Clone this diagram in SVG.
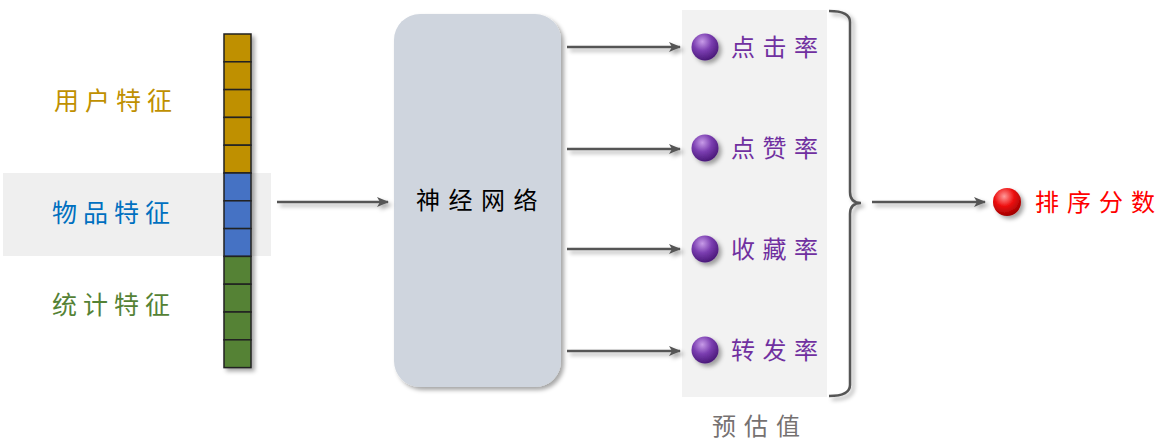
<svg xmlns="http://www.w3.org/2000/svg" width="1164" height="445" viewBox="0 0 1164 445">
<style>
text{font-family:"Noto Sans CJK SC","Noto Sans",sans-serif;font-size:24px;}
.feat{font-size:25px;letter-spacing:6px}
.pred{fill:#7030A0;letter-spacing:7.5px}
.cell{stroke:#222;stroke-width:1.5}
.conn{stroke:#555;stroke-width:2.5;fill:none}
</style>
<defs>
<marker id="ah" viewBox="0 0 12 10" refX="11" refY="5" markerWidth="12" markerHeight="10" markerUnits="userSpaceOnUse" orient="auto">
<path d="M0,0 L12,5 L0,10 L3,5 Z" fill="#555"/>
</marker>
<filter id="sh" x="-20%" y="-20%" width="150%" height="150%">
<feDropShadow dx="3" dy="3" stdDeviation="2" flood-color="#000" flood-opacity="0.35"/>
</filter>
<radialGradient id="pg" cx="0.4" cy="0.3" r="0.7">
<stop offset="0" stop-color="#c79be8"/>
<stop offset="0.5" stop-color="#7a3db0"/>
<stop offset="1" stop-color="#4b1a7a"/>
</radialGradient>
<radialGradient id="rg" cx="0.4" cy="0.3" r="0.7">
<stop offset="0" stop-color="#ff9a9a"/>
<stop offset="0.5" stop-color="#ee1111"/>
<stop offset="1" stop-color="#a00000"/>
</radialGradient>
</defs>

<g id="item-band"><rect x="3" y="173" width="268" height="83" fill="#efefef"/></g>

<g id="labels">
<text class="feat" x="54" y="110" fill="#BF9000">用户特征</text>
<text class="feat" x="52" y="222" fill="#0070C0">物品特征</text>
<text class="feat" x="52" y="314" fill="#548235">统计特征</text>
</g>

<g id="feature-vector" filter="url(#sh)">
<rect class="cell" x="224" y="34" width="27" height="27.8" fill="#BF9000"/>
<rect class="cell" x="224" y="61.8" width="27" height="27.8" fill="#BF9000"/>
<rect class="cell" x="224" y="89.6" width="27" height="27.8" fill="#BF9000"/>
<rect class="cell" x="224" y="117.4" width="27" height="27.8" fill="#BF9000"/>
<rect class="cell" x="224" y="145.2" width="27" height="27.8" fill="#BF9000"/>
<rect class="cell" x="224" y="173" width="27" height="27.8" fill="#4472C4"/>
<rect class="cell" x="224" y="200.8" width="27" height="27.8" fill="#4472C4"/>
<rect class="cell" x="224" y="228.6" width="27" height="27.8" fill="#4472C4"/>
<rect class="cell" x="224" y="256.4" width="27" height="27.8" fill="#548235"/>
<rect class="cell" x="224" y="284.2" width="27" height="27.8" fill="#548235"/>
<rect class="cell" x="224" y="312" width="27" height="27.8" fill="#548235"/>
<rect class="cell" x="224" y="339.8" width="27" height="27.8" fill="#548235"/>
</g>

<g id="neural-network">
<rect x="394" y="14" width="167" height="373" rx="26" fill="#CFD5DE" filter="url(#sh)"/>
<text x="416" y="209" fill="#000" letter-spacing="8.5">神经网络</text>
</g>

<g id="predictions">
<rect x="682" y="10" width="145" height="387" fill="#F2F2F2"/>
<circle cx="705" cy="47" r="13.5" fill="url(#pg)" filter="url(#sh)"/>
<circle cx="705" cy="148" r="13.5" fill="url(#pg)" filter="url(#sh)"/>
<circle cx="705" cy="249" r="13.5" fill="url(#pg)" filter="url(#sh)"/>
<circle cx="705" cy="350" r="13.5" fill="url(#pg)" filter="url(#sh)"/>
<text class="pred" x="731" y="56">点击率</text>
<text class="pred" x="731" y="157">点赞率</text>
<text class="pred" x="731" y="258">收藏率</text>
<text class="pred" x="731" y="359">转发率</text>
<text x="712" y="435" fill="#767171" letter-spacing="8">预估值</text>
</g>

<g id="score">
<circle cx="1007" cy="202" r="14" fill="url(#rg)" filter="url(#sh)"/>
<text x="1035" y="211" fill="#FF0000" letter-spacing="8">排序分数</text>
</g>

<g id="connectors" filter="url(#sh)">
<line class="conn" x1="277" y1="202" x2="388" y2="202" marker-end="url(#ah)"/>
<line class="conn" x1="567" y1="47" x2="680" y2="47" marker-end="url(#ah)"/>
<line class="conn" x1="567" y1="149" x2="680" y2="149" marker-end="url(#ah)"/>
<line class="conn" x1="567" y1="249" x2="680" y2="249" marker-end="url(#ah)"/>
<line class="conn" x1="567" y1="351" x2="680" y2="351" marker-end="url(#ah)"/>
<path class="conn" stroke-width="3" d="M829,11 Q850,11 850,22 L850,192 Q850,203 861,203 Q850,203 850,214 L850,385 Q850,396 829,396"/>
<line class="conn" x1="872" y1="202" x2="985" y2="202" marker-end="url(#ah)"/>
</g>
</svg>
